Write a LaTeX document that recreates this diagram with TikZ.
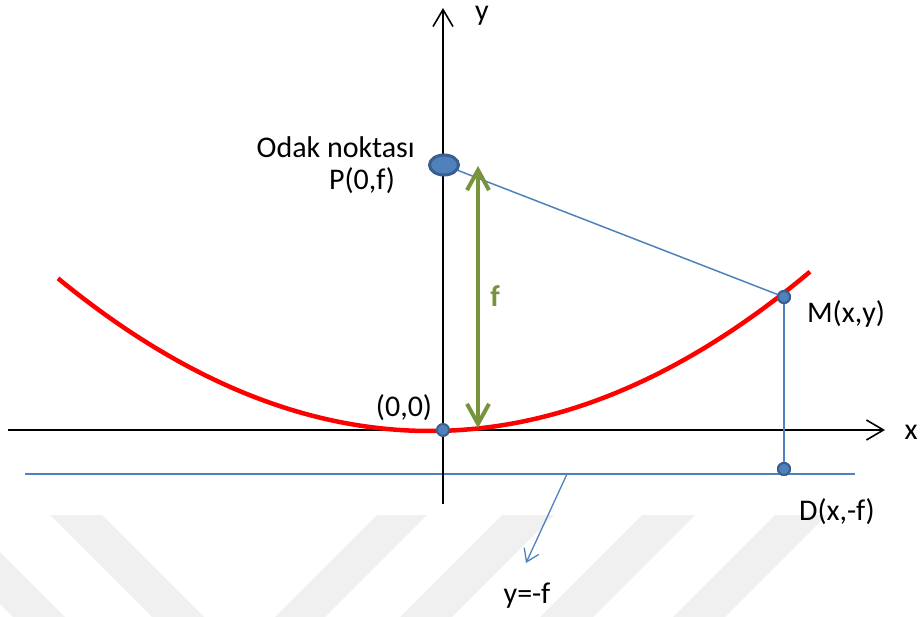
\documentclass[tikz,border=0pt]{standalone}
\usepackage{fontspec}
\setmainfont{Carlito}
\usetikzlibrary{arrows.meta,shapes.geometric}
\definecolor{ptblue}{HTML}{4F81BD}
\definecolor{dotblue}{HTML}{3A5F8F}
\definecolor{olivegr}{HTML}{77933C}
\definecolor{wm}{HTML}{F0F0F0}
\begin{document}
\begin{tikzpicture}[x=1pt,y=-1pt,font=\fontsize{30}{35}\selectfont,
  axis/.style={line width=1.6pt,-{Straight Barb[length=17pt,width=20pt,line width=1.6pt]}},
  bline/.style={ptblue,line width=1.5pt},
  dotn/.style={circle,fill=ptblue,draw=dotblue,line width=2pt,inner sep=0pt,minimum size=12pt},
  lbl/.style={inner sep=0pt,text=black},
  stripe/.style={fill=wm,draw=none}]
\useasboundingbox (0,0) rectangle (924,617);
% watermark stripes
\begin{scope}
\clip (0,0) rectangle (924,617);
\fill[stripe] (-89,515) -- (-37,515) -- (65,617) -- (13,617) -- cycle;
\fill[stripe] (50,515) -- (102,515) -- (204,617) -- (152,617) -- cycle;
\fill[stripe] (377,515) -- (427,515) -- (325,617) -- (275,617) -- cycle;
\fill[stripe] (502,515) -- (554,515) -- (452,617) -- (400,617) -- cycle;
\fill[stripe] (642,515) -- (695,515) -- (593,617) -- (540,617) -- cycle;
\fill[stripe] (775,515) -- (827,515) -- (725,617) -- (673,617) -- cycle;
\end{scope}
% coordinates
\coordinate (xs) at (8,430);
\coordinate (xe) at (885,430);
\coordinate (ys) at (443,504);
\coordinate (ye) at (443,8);
\coordinate (Ls) at (25,474);
\coordinate (Le) at (855,474);
\coordinate (La) at (567,474);
\coordinate (Lt) at (526,563);
\coordinate (fA) at (478,166);
\coordinate (fB) at (478,428);
% directrix
\draw[bline] (Ls) -- (Le);
\draw[ptblue,line width=1.3pt,-{Straight Barb[length=12pt,width=16pt,line width=1.3pt]}] (La) -- (Lt);
% axes
\draw[axis] (xs) -- (xe);
\draw[axis] (ys) -- (ye);
% parabola
\draw[red,line width=4.5pt] plot[domain=58:810,samples=120,smooth] (\x,{431-11.03*((\x-430)/100)^2});
% points
\node[ellipse,draw=dotblue,fill=ptblue,line width=3pt,minimum width=29pt,minimum height=20pt,inner sep=0pt] (P) at (444,165) {};
\node[dotn] (M) at (784,297) {};
\node[dotn] (D) at (784,469) {};
\draw[bline] (P) -- (M);
\draw[bline] (M) -- (D);
\node[dotn] (M2) at (784,297) {};
\node[dotn] (D2) at (784,469) {};
\node[dotn] (O) at (443,430) {};
% focal distance arrow
\draw[olivegr,line width=4pt,{Straight Barb[length=20pt,width=22pt,line width=4pt]}-{Straight Barb[length=20pt,width=22pt,line width=4pt]}] (fA) -- (fB);
% labels
\node[lbl,anchor=base east] (odak) at (415,158) {Odak noktası};
\node[lbl,anchor=base] (pl) at (362,190) {P(0,f)};
\node[lbl,anchor=base] (ol) at (404,417) {(0,0)};
\node[lbl,anchor=base] (ml) at (846,323) {M(x,y)};
\node[lbl,anchor=base] (xl) at (911,440) {x};
\node[lbl,anchor=base] (yl) at (482,21) {y};
\node[lbl,anchor=base] (dl) at (837,520) {D(x,-f)};
\node[lbl,anchor=base] (yf) at (527,603) {y=-f};
\node[lbl,anchor=base,text=olivegr,font=\fontsize{30}{35}\selectfont\bfseries] (fl) at (495,307) {f};
\end{tikzpicture}
\end{document}
